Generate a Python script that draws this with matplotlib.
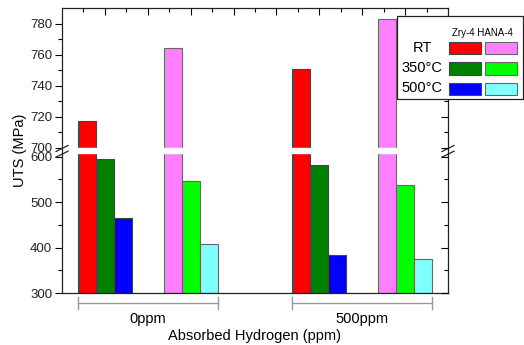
import matplotlib
matplotlib.use('Agg')
import matplotlib.pyplot as plt
import numpy as np
from matplotlib.patches import Rectangle

plt.rcParams['font.family'] = ['Liberation Sans', 'DejaVu Sans']

# data (MPa)
temps = ['RT', '350°C', '500°C']
hydrogen = ['0ppm', '500ppm']
zry4 = {'0ppm': [717, 596, 466], '500ppm': [751, 582, 384]}
hana4 = {'0ppm': [764, 547, 408], '500ppm': [783, 538, 375]}
zry_colors = ['#ff0000', '#008000', '#0000ff']
hana_colors = ['#ff80ff', '#00ff00', '#80ffff']

# broken y axis: 300-600 and 700-790 on one scale
def fwd(v):
    v = np.asarray(v, float)
    return np.where(v <= 600, (v - 300) * 0.4533,
                    np.where(v <= 700, 136 + (v - 600) * 0.09, 145 + (v - 700) * 1.55))

def inv(p):
    p = np.asarray(p, float)
    return np.where(p <= 136, p / 0.4533 + 300,
                    np.where(p <= 145, 600 + (p - 136) / 0.09, 700 + (p - 145) / 1.55))

fig = plt.figure(figsize=(5.24, 3.45), dpi=100)
ax = fig.add_axes([62/524, 52/345, 386/524, 285/345])

w = 0.42
centers = {'0ppm': (1, 3), '500ppm': (6, 8)}
for h in hydrogen:
    cz, ch = centers[h]
    for i in range(3):
        ax.bar(cz + (i - 1) * w, zry4[h][i] - 300, bottom=300, width=w,
               color=zry_colors[i], edgecolor='#444444', linewidth=0.8, zorder=1)
        ax.bar(ch + (i - 1) * w, hana4[h][i] - 300, bottom=300, width=w,
               color=hana_colors[i], edgecolor='#666666', linewidth=0.8, zorder=1)

ax.set_yscale('function', functions=(fwd, inv))
ax.set_ylim(300, 790)
ax.set_xlim(0, 9)
ax.axhspan(644, 700, color='white', zorder=1.5)

yt = [300, 400, 500, 600, 700, 720, 740, 760, 780]
ym = [350, 450, 550, 710, 730, 750, 770]
ax.set_yticks(yt)
ax.set_yticks(ym, minor=True)
ax.tick_params(axis='y', which='major', direction='out', length=5, labelsize=9.5,
               labelcolor='#222222', width=0.8, pad=2)
ax.tick_params(axis='y', which='minor', direction='out', length=3, width=0.8)
ax.set_xticks(range(1, 9))
ax.set_xticks(np.arange(0.5, 9, 1), minor=True)
ax.tick_params(axis='x', which='both', bottom=False, top=True, direction='in',
               labelbottom=False, width=0.8)
ax.tick_params(axis='x', which='major', length=5)
ax.tick_params(axis='x', which='minor', length=3)
for s in ax.spines.values():
    s.set_linewidth(0.9)
    s.set_color('#222222')

ax2 = ax.twinx()
ax2.set_yscale('function', functions=(fwd, inv))
ax2.set_ylim(300, 790)
ax2.set_yticks(yt)
ax2.set_yticks(ym, minor=True)
ax2.tick_params(axis='y', which='both', direction='in', labelright=False, width=0.8)
ax2.tick_params(axis='y', which='major', length=5)
ax2.tick_params(axis='y', which='minor', length=3)
for s in ax2.spines.values():
    s.set_visible(False)

ax.set_ylabel('UTS (MPa)', fontsize=10.5, labelpad=2)

# break marks on both spines
dx, dy = 6/386, 3/285
for xs in (0, 1):
    for yb in (0.507, 0.487):
        ax.plot([xs - dx, xs + dx], [yb - dy, yb + dy], color='#222222', lw=0.9,
                transform=ax.transAxes, clip_on=False, zorder=5)

# group brackets below the axis
tr = ax.get_xaxis_transform()
for h in hydrogen:
    cz, ch = centers[h]
    x0, x1 = cz - 1.5 * w, ch + 1.5 * w
    ax.plot([x0, x1], [-0.035, -0.035], color='#999999', lw=1, transform=tr, clip_on=False)
    for xe in (x0, x1):
        ax.plot([xe, xe], [-0.015, -0.055], color='#999999', lw=1, transform=tr, clip_on=False)
    ax.text((cz + ch) / 2, -0.09, h, transform=tr, ha='center', va='center', fontsize=10.5)
ax.text(0.5, -0.15, 'Absorbed Hydrogen (ppm)', transform=ax.transAxes,
        ha='center', va='center', fontsize=10.5)

# legend table
W, H = 524, 345
fig.patches.append(Rectangle((397/W, 1 - 99/H), 126/W, 83/H, transform=fig.transFigure,
                             facecolor='white', edgecolor='#222222', lw=0.9, zorder=2))
fig.text(482/W, 1 - 33/H, 'Zry-4 HANA-4', ha='center', va='center', fontsize=7, zorder=3)
rows_y = [48, 68.5, 88.5]
for i, t in enumerate(temps):
    fig.text(422/W, 1 - rows_y[i]/H, t, ha='center', va='center', fontsize=10.5, zorder=3)
    for xl, cols, ec in ((449, zry_colors, '#444444'), (485, hana_colors, '#666666')):
        fig.patches.append(Rectangle((xl/W, 1 - (rows_y[i] + 6)/H), 32/W, 12/H,
                                     transform=fig.transFigure, facecolor=cols[i],
                                     edgecolor=ec, lw=0.8, zorder=3))

fig.savefig('out.png', dpi=100)
